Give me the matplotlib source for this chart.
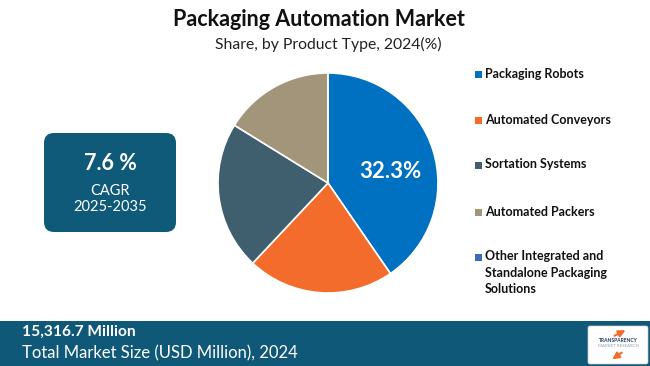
import matplotlib
matplotlib.use("Agg")
import matplotlib.pyplot as plt
from matplotlib.patches import FancyBboxPatch, Rectangle

categories = ["Packaging Robots", "Automated Conveyors", "Sortation Systems",
              "Automated Packers", "Other Integrated and\nStandalone Packaging\nSolutions"]
shares = [40.4, 21.6, 21.8, 16.2, 0.0]
colors = ["#0070C0", "#F36C2B", "#3F5E6E", "#A3957A", "#3A6DB4"]
highlight_label = "32.3%"
title = "Packaging Automation Market"
subtitle = "Share, by Product Type, 2024(%)"
cagr_value = "7.6 %"
cagr_label = "CAGR\n2025-2035"
market_value = "15,316.7 Million"
market_label = "Total Market Size (USD Million), 2024"

W, H = 650, 366
fig = plt.figure(figsize=(W / 100, H / 100), dpi=100)
fig.patch.set_facecolor("white")

# pie
cx, cy, r = 328, 183, 110
pax = fig.add_axes([(cx - r) / W, (H - cy - r) / H, 2 * r / W, 2 * r / H])
pax.pie(shares, colors=colors, startangle=90, counterclock=False,
        wedgeprops=dict(edgecolor="white", linewidth=1.2))
pax.set_xlim(-1, 1)
pax.set_ylim(-1, 1)
pax.set_aspect("auto")
pax.axis("off")

# overlay axes in pixel coordinates (y down), on top of the pie
ov = fig.add_axes([0, 0, 1, 1])
ov.set_xlim(0, W)
ov.set_ylim(H, 0)
ov.axis("off")
ov.patch.set_alpha(0)

FONT = "Lato"

ov.text(319, 20, title, ha="center", va="center", fontsize=15.5, fontweight="bold",
        family=FONT, color="#111111")
ov.text(328, 44, subtitle, ha="center", va="center", fontsize=11.3, family=FONT,
        color="#222222")

ov.text(390, 172, highlight_label, ha="center", va="center", fontsize=16,
        fontweight="bold", color="white", family=FONT)

# legend
leg_y = [74, 120, 165, 212, 257]
for cat, col, y in zip(categories, colors, leg_y):
    ov.add_patch(Rectangle((474.5, y - 3.5), 7, 7, facecolor=col, edgecolor="none"))
    ov.text(485, y - 6.5, cat, ha="left", va="top", fontsize=9, fontweight="bold",
            family=FONT, color="#111111", linespacing=1.42)

# CAGR box
ov.add_patch(FancyBboxPatch((44 + 10, 133 + 10), 132 - 20, 99 - 20,
                            boxstyle="round,pad=10", facecolor="#0E5A78",
                            edgecolor="none"))
ov.text(110, 164, cagr_value, ha="center", va="center", fontsize=15.5,
        fontweight="bold", color="white", family=FONT)
ov.text(110, 199, cagr_label, ha="center", va="center", fontsize=10.5,
        color="white", family=FONT, linespacing=1.25)

# bottom banner
ov.add_patch(Rectangle((0, 321), W, H - 321, facecolor="#0F5878", edgecolor="none"))
ov.text(22, 332, market_value, ha="left", va="center", fontsize=11.2,
        fontweight="bold", color="white", family=FONT)
ov.text(22, 353, market_label, ha="left", va="center", fontsize=12,
        color="white", family=FONT)

# logo
ov.add_patch(FancyBboxPatch((590, 328), 56, 34, boxstyle="round,pad=2",
                            facecolor="white", edgecolor="#cccccc", linewidth=0.5))
ov.text(618, 340, "TRANSPARENCY", ha="center", va="center", fontsize=3.6,
        fontweight="bold", color="#1F3B57", family=FONT)
ov.text(618, 346, "MARKET RESEARCH", ha="center", va="center", fontsize=3.2,
        color="#8AA0B0", family=FONT)
ov.annotate("", xy=(628, 329), xytext=(612, 337),
            arrowprops=dict(arrowstyle="-|>", color="#F36C2B", lw=1.5))
ov.annotate("", xy=(610, 361), xytext=(624, 351),
            arrowprops=dict(arrowstyle="-|>", color="#F36C2B", lw=1.5))

fig.savefig("out.png", dpi=100, facecolor="white")
